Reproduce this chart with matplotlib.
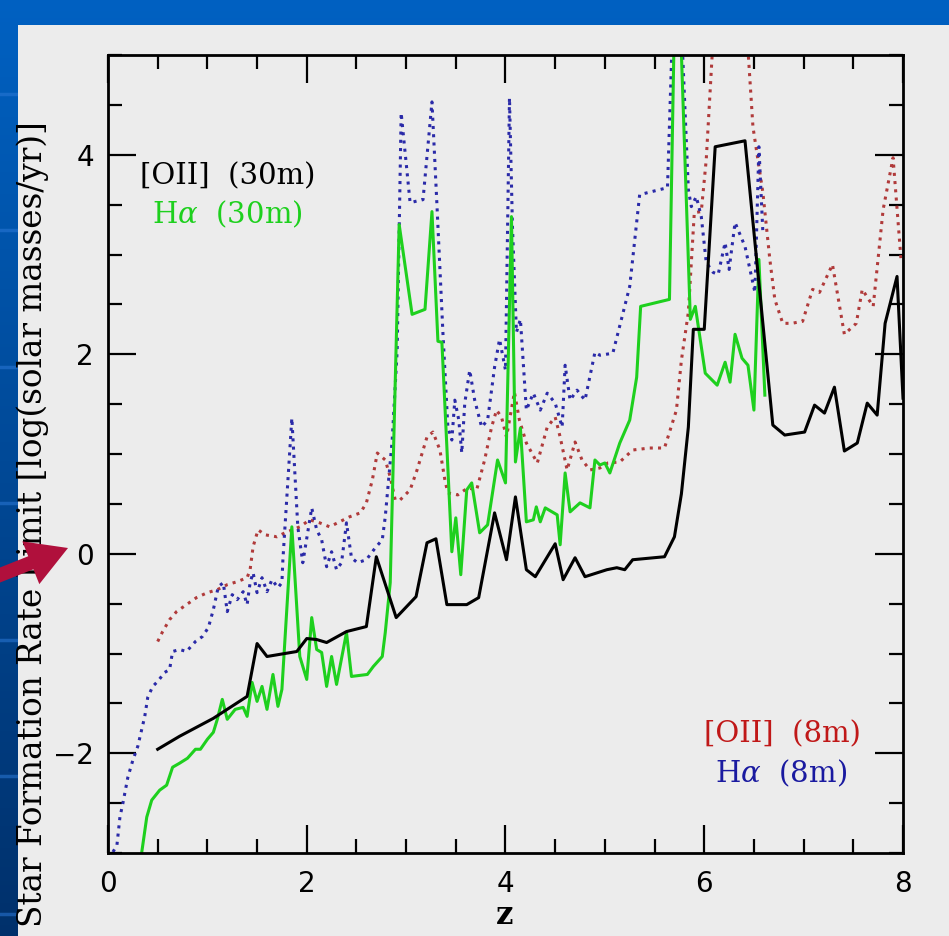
import numpy as np
import matplotlib

matplotlib.use("Agg")
import matplotlib.pyplot as plt
from matplotlib.patches import Rectangle, FancyArrow
from matplotlib.ticker import MultipleLocator

plt.rcParams["mathtext.fontset"] = "dejavuserif"

# [OII] 30m (solid black)
oii30_z = [0.50, 0.72, 1.06, 1.40, 1.50, 1.60, 1.90, 2.00, 2.10, 2.20, 2.40, 2.60, 2.70, 2.90,
           3.10, 3.21, 3.30, 3.41, 3.61, 3.73, 3.89, 4.01, 4.10, 4.21, 4.30, 4.50, 4.58, 4.70,
           4.80, 5.02, 5.12, 5.20, 5.28, 5.60, 5.70, 5.77, 5.84, 5.89, 6.00, 6.11, 6.41, 6.69,
           6.81, 7.01, 7.11, 7.21, 7.31, 7.41, 7.54, 7.64, 7.74, 7.82, 7.94, 8.00]
oii30_sfr = [-1.96, -1.83, -1.65, -1.43, -0.90, -1.03, -0.98, -0.85, -0.86, -0.89, -0.78, -0.73,
             -0.03, -0.64, -0.43, 0.11, 0.15, -0.51, -0.51, -0.44, 0.41, -0.06, 0.57, -0.16,
             -0.23, 0.10, -0.26, -0.04, -0.23, -0.16, -0.14, -0.16, -0.06, -0.03, 0.17, 0.60,
             1.27, 2.25, 2.25, 4.08, 4.14, 1.29, 1.19, 1.22, 1.49, 1.41, 1.67, 1.03, 1.11, 1.51,
             1.39, 2.31, 2.78, 1.56]

# Halpha 30m (solid green)
ha30_z = [0.34, 0.39, 0.44, 0.52, 0.59, 0.65, 0.72, 0.80, 0.88, 0.93, 1.00, 1.06, 1.10, 1.15,
          1.20, 1.28, 1.36, 1.40, 1.45, 1.50, 1.55, 1.60, 1.66, 1.71, 1.75, 1.85, 1.93, 2.00,
          2.05, 2.10, 2.15, 2.20, 2.25, 2.30, 2.40, 2.45, 2.61, 2.67, 2.76, 2.79, 2.84, 2.93,
          3.06, 3.19, 3.26, 3.32, 3.36, 3.46, 3.50, 3.55, 3.61, 3.66, 3.74, 3.82, 3.92, 4.00,
          4.06, 4.10, 4.15, 4.21, 4.28, 4.31, 4.35, 4.40, 4.52, 4.55, 4.60, 4.65, 4.75, 4.85,
          4.90, 4.95, 5.00, 5.05, 5.15, 5.25, 5.32, 5.36, 5.65, 5.72, 5.86, 5.91, 6.01, 6.13,
          6.21, 6.26, 6.31, 6.38, 6.44, 6.50, 6.55, 6.61]
ha30_sfr = [-2.99, -2.64, -2.47, -2.37, -2.32, -2.14, -2.10, -2.05, -1.96, -1.96, -1.86, -1.79,
            -1.66, -1.46, -1.66, -1.56, -1.54, -1.63, -1.29, -1.48, -1.33, -1.56, -1.21, -1.53,
            -1.36, 0.27, -1.03, -1.26, -0.64, -0.96, -0.99, -1.33, -1.03, -1.31, -0.79, -1.23,
            -1.21, -1.13, -1.03, -0.79, -0.29, 3.30, 2.40, 2.45, 3.43, 2.13, 2.12, 0.02, 0.36,
            -0.21, 0.64, 0.71, 0.21, 0.29, 0.94, 0.71, 3.38, 0.92, 1.26, 0.32, 0.34, 0.47, 0.32,
            0.46, 0.39, 0.09, 0.81, 0.42, 0.51, 0.46, 0.94, 0.89, 0.91, 0.81, 1.11, 1.34, 1.77,
            2.48, 2.55, 6.50, 2.35, 2.48, 1.81, 1.69, 1.92, 1.72, 2.20, 1.96, 1.89, 1.44, 2.95,
            1.59]

# [OII] 8m (dotted red)
oii8_z = [0.50, 0.55, 0.62, 0.69, 0.79, 0.89, 1.00, 1.10, 1.20, 1.30, 1.40, 1.43, 1.46, 1.51,
          1.58, 1.70, 1.78, 1.93, 2.03, 2.13, 2.23, 2.33, 2.43, 2.54, 2.60, 2.66, 2.71, 2.79,
          2.84, 2.89, 2.94, 3.04, 3.11, 3.21, 3.27, 3.34, 3.39, 3.42, 3.52, 3.62, 3.71, 3.79,
          3.86, 3.91, 3.96, 4.01, 4.09, 4.14, 4.21, 4.32, 4.42, 4.50, 4.55, 4.62, 4.70, 4.77,
          4.85, 4.95, 5.03, 5.15, 5.28, 5.45, 5.60, 5.72, 5.77, 5.84, 5.90, 5.97, 6.02, 6.25,
          6.49, 6.59, 6.66, 6.71, 6.79, 6.88, 6.99, 7.09, 7.16, 7.29, 7.41, 7.53, 7.59, 7.70,
          7.80, 7.90, 7.98]
oii8_sfr = [-0.88, -0.78, -0.66, -0.58, -0.51, -0.44, -0.39, -0.36, -0.31, -0.28, -0.24, -0.16,
            0.07, 0.24, 0.19, 0.17, 0.21, 0.27, 0.34, 0.31, 0.27, 0.32, 0.37, 0.41, 0.51, 0.74,
            1.01, 0.94, 0.77, 0.54, 0.54, 0.64, 0.84, 1.17, 1.22, 1.04, 0.74, 0.61, 0.59, 0.66,
            0.64, 0.94, 1.27, 1.44, 1.37, 1.17, 1.62, 1.34, 1.11, 0.91, 1.27, 1.37, 1.17, 0.84,
            1.12, 0.94, 0.84, 0.86, 0.91, 0.92, 1.04, 1.06, 1.06, 1.44, 1.94, 2.42, 3.42, 3.43,
            3.95, 8.00, 4.28, 3.62, 2.95, 2.55, 2.31, 2.31, 2.33, 2.65, 2.62, 2.90, 2.20, 2.31,
            2.65, 2.48, 3.45, 3.97, 2.95]

# Halpha 8m (dotted blue)
ha8_z = [0.05, 0.09, 0.12, 0.15, 0.20, 0.25, 0.30, 0.37, 0.40, 0.45, 0.50, 0.57, 0.62, 0.65,
         0.72, 0.79, 0.88, 0.95, 1.01, 1.06, 1.11, 1.16, 1.20, 1.25, 1.30, 1.36, 1.40, 1.43,
         1.46, 1.50, 1.55, 1.60, 1.65, 1.71, 1.75, 1.76, 1.85, 1.91, 1.96, 2.05, 2.10, 2.15,
         2.20, 2.25, 2.30, 2.35, 2.40, 2.45, 2.51, 2.60, 2.69, 2.76, 2.79, 2.86, 2.91, 2.95,
         3.04, 3.17, 3.26, 3.31, 3.37, 3.42, 3.46, 3.49, 3.53, 3.56, 3.59, 3.64, 3.69, 3.76,
         3.82, 3.89, 3.94, 4.00, 4.04, 4.07, 4.11, 4.15, 4.21, 4.28, 4.35, 4.42, 4.50, 4.57,
         4.60, 4.65, 4.72, 4.80, 4.90, 4.95, 5.08, 5.25, 5.35, 5.63, 5.72, 5.84, 5.87, 5.92,
         5.97, 6.02, 6.09, 6.14, 6.21, 6.25, 6.31, 6.41, 6.51, 6.55, 6.59]
ha8_sfr = [-2.99, -2.92, -2.64, -2.50, -2.24, -2.07, -1.93, -1.63, -1.44, -1.33, -1.28, -1.19,
           -1.16, -0.98, -0.96, -0.98, -0.88, -0.83, -0.74, -0.56, -0.33, -0.29, -0.58, -0.41,
           -0.46, -0.38, -0.51, -0.29, -0.19, -0.39, -0.24, -0.38, -0.26, -0.34, -0.29, -0.06,
           1.36, 0.27, -0.09, 0.46, 0.24, 0.14, -0.13, 0.02, -0.16, -0.09, 0.31, -0.04, -0.09,
           -0.06, 0.06, 0.14, 0.37, 1.14, 2.04, 4.42, 3.52, 3.55, 4.53, 3.50, 2.22, 1.27, 1.14,
           1.54, 1.34, 1.01, 1.51, 1.84, 1.54, 1.27, 1.34, 1.87, 2.15, 1.84, 4.57, 3.28, 2.22,
           2.35, 1.44, 1.61, 1.44, 1.61, 1.51, 1.27, 1.89, 1.54, 1.64, 1.54, 2.02, 1.99, 2.01,
           2.68, 3.60, 3.67, 6.50, 3.65, 3.48, 3.58, 3.38, 2.92, 2.82, 2.80, 3.12, 2.85, 3.32,
           3.08, 2.62, 4.08, 3.22]

W, H = 949, 936
PANEL = "#ececec"

fig = plt.figure(figsize=(W / 100, H / 100), dpi=100)

# slide background (pixel coordinates)
bg = fig.add_axes([0, 0, 1, 1], zorder=0)
bg.set_xlim(0, W)
bg.set_ylim(H, 0)
bg.axis("off")
top = np.array([0.0, 0.38, 0.76])
bottom = np.array([0.0, 0.19, 0.42])
t = np.linspace(0, 1, 256)[:, None, None]
grad = top * (1 - t) + bottom * t
grad = np.repeat(grad, 4, axis=1)
bg.imshow(grad, extent=(0, W, H, 0), aspect="auto", zorder=0)
for yl in [94, 230, 367, 503, 640, 776, 914]:
    bg.plot([0, W], [yl, yl], color="#2a78d6", lw=2.5, alpha=0.55, zorder=1)
bg.add_patch(Rectangle((18, 25), W - 18, H - 25, facecolor=PANEL, edgecolor="none", zorder=2))
bg.text(33, 524, "Star Formation Rate Limit [log(solar masses/yr)]", rotation=90,
        ha="center", va="center", fontsize=23.5, family="DejaVu Serif", zorder=3)
bg.text(505, 915, "z", ha="center", va="center", fontsize=22, family="DejaVu Serif",
        fontweight="bold", zorder=3)
bg.add_patch(FancyArrow(-5, 577, 73, -29, width=14, head_width=46, head_length=40,
                        length_includes_head=True, color="#b0103c", lw=0, zorder=4))

ax = fig.add_axes([108 / W, (H - 853) / H, (903 - 108) / W, (853 - 55) / H], zorder=1)
ax.set_facecolor(PANEL)

ax.plot(oii8_z, oii8_sfr, color="#b03a3a", lw=2.2, ls=(0, (1, 1.7)))
ax.plot(ha8_z, ha8_sfr, color="#2a2aa8", lw=2.2, ls=(0, (1, 1.7)))
ax.plot(ha30_z, ha30_sfr, color="#1ed01e", lw=2.2)
ax.plot(oii30_z, oii30_sfr, color="black", lw=2.2)

ax.set_xlim(0, 8)
ax.set_ylim(-3, 5)
ax.xaxis.set_major_locator(MultipleLocator(2))
ax.xaxis.set_minor_locator(MultipleLocator(0.5))
ax.yaxis.set_major_locator(MultipleLocator(2))
ax.yaxis.set_minor_locator(MultipleLocator(0.5))
ax.tick_params(which="both", direction="in", top=True, right=True, width=1.6, colors="black")
ax.tick_params(which="major", length=20, labelsize=20)
ax.tick_params(which="minor", length=10)
ax.tick_params(axis="x", which="major", pad=12)
ax.tick_params(axis="y", which="major", pad=10)
for s in ax.spines.values():
    s.set_linewidth(2)

ax.text(0.32, 3.78, "[OII]  (30m)", fontsize=21, family="DejaVu Serif", va="center")
ax.text(0.44, 3.40, r"H$\alpha$  (30m)", fontsize=21, family="DejaVu Serif", va="center",
        color="#1ed01e")
ax.text(6.00, -1.81, "[OII]  (8m)", fontsize=21, family="DejaVu Serif", va="center",
        color="#c01818")
ax.text(6.11, -2.20, r"H$\alpha$  (8m)", fontsize=21, family="DejaVu Serif", va="center",
        color="#1a1aa0")

fig.savefig("out.png", dpi=100)
